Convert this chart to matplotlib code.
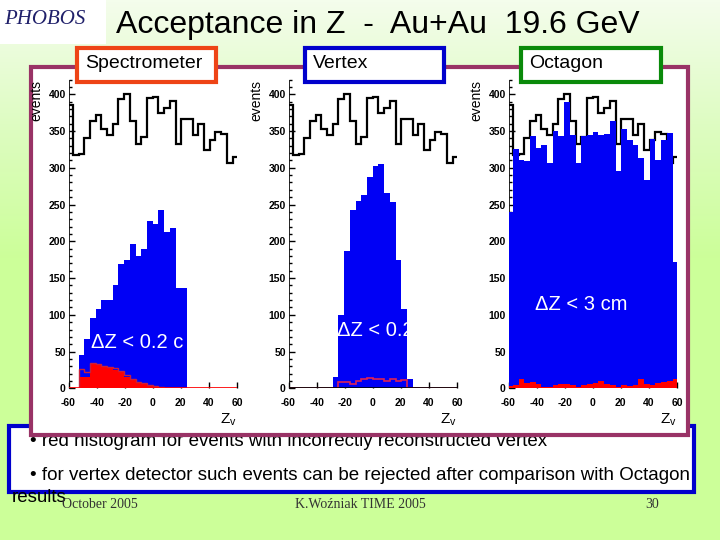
import numpy as np
import matplotlib
matplotlib.use("Agg")
import matplotlib.pyplot as plt
from matplotlib.patches import Rectangle
from matplotlib.colors import LinearSegmentedColormap

# ---------------- data ----------------
bin_edges = np.linspace(-61, 61, 31)          # 30 bins of ~4.07 cm
x_ticks = [-60, -40, -20, 0, 20, 40, 60]
y_ticks = [0, 50, 100, 150, 200, 250, 300, 350, 400]

all_events = [385, 317, 319, 340, 363, 372, 353, 345, 360, 394,
              400, 364, 332, 342, 395, 397, 374, 381, 391, 333,
              366, 367, 345, 360, 324, 338, 349, 346, 307, 315]

spec_accepted = [0, 0, 45, 67, 95, 108, 120, 120, 141, 169,
                 175, 197, 180, 190, 228, 223, 242, 213, 218, 136,
                 136, 0, 0, 0, 0, 0, 0, 0, 0, 0]
spec_wrong_fill = [0, 0, 15, 16, 33, 32, 30, 27, 25, 22,
                   16, 12, 8, 6, 3, 2, 1, 1, 0.5, 0.5,
                   0.3, 0, 0, 0, 0, 0, 0, 0, 0, 0]
spec_wrong_line = [0, 0, 26, 22, 34, 33, 31, 29, 27, 24,
                   18, 13, 9, 7, 4, 3, 2, 1, 1, 0.5,
                   0.3, 0, 0, 0, 0, 0, 0, 0, 0, 0]

vtx_accepted = [0, 0, 0, 0, 0, 0, 0, 0, 15, 100,
                187, 243, 255, 263, 288, 302, 305, 266, 253, 175,
                108, 12, 0, 0, 0, 0, 0, 0, 0, 0]
vtx_wrong = [0, 0, 0, 0, 0, 0, 0, 0, 0, 9,
             8, 6, 10, 12, 14, 13, 12, 10, 12, 10,
             11, 0, 0, 0, 0, 0, 0, 0, 0, 0]

oct_accepted = [240, 326, 311, 309, 343, 327, 331, 306, 350, 343,
                389, 345, 306, 343, 345, 349, 345, 346, 364, 296,
                353, 338, 331, 314, 284, 339, 311, 338, 348, 172]
oct_wrong = [3, 4, 13, 7, 9, 6, 2, 1.5, 4.5, 6,
             5.5, 4, 2, 5, 6, 7, 9.5, 6, 5, 2,
             4, 3, 4, 12, 6, 4.5, 7, 8, 10.5, 12]

title = "Acceptance in Z  -  Au+Au  19.6 GeV"
panel_names = ["Spectrometer", "Vertex", "Octagon"]
panel_colors = ["#ee4416", "#0000cc", "#0a8a0a"]
cut_labels = ["\u0394Z < 0.2 c", "\u0394Z < 0.2 cm", "\u0394Z < 3 cm"]
bullets = ["\u2022 red histogram for events with incorrectly reconstructed vertex",
           "\u2022 for vertex detector such events can be rejected after comparison with Octagon"]
footer = ["October 2005", "K.Wo\u017aniak TIME 2005", "30"]

# ---------------- figure ----------------
W, H = 720, 540
plt.rcParams['font.family'] = ['Liberation Sans', 'DejaVu Sans']
plt.rcParams['axes.unicode_minus'] = False
fig = plt.figure(figsize=(7.2, 5.4), dpi=100)


def rect(x0, y0, x1, y1):
    return [x0 / W, 1 - y1 / H, (x1 - x0) / W, (y1 - y0) / H]


bg = fig.add_axes([0, 0, 1, 1], zorder=0)
bg.set_xlim(0, W)
bg.set_ylim(H, 0)
bg.axis('off')
cmap = LinearSegmentedColormap.from_list('g', ['#f4fdec', '#ddfcc0', '#ccff99'])
grad = np.concatenate([np.linspace(0, 1, 260), np.ones(280)])[:, None]
bg.imshow(grad, cmap=cmap, extent=[0, W, H, 0], aspect='auto', zorder=0)

# logo
bg.add_patch(Rectangle((0, 0), 106, 44, facecolor='white', edgecolor='none', zorder=1))
bg.text(4, 20, "PHOBOS", fontsize=15, color='#20206a', fontstyle='italic',
        family='Liberation Serif', va='center', ha='left', zorder=2)
bg.text(378, 25, title, fontsize=23, ha='center', va='center', color='black', zorder=2)

# blue text box
bg.add_patch(Rectangle((9, 426), 685, 66, facecolor='white', edgecolor='#0000cc', lw=3, zorder=1))
bg.text(30, 442, bullets[0], fontsize=13.5, va='center', ha='left', zorder=2)
bg.text(30, 475, bullets[1], fontsize=13.5, va='center', ha='left', zorder=2)
bg.text(12, 498, "results", fontsize=13.5, va='center', ha='left', zorder=4)
bg.text(62, 504, footer[0], fontsize=10, family='Liberation Serif', color='#333333', va='center', ha='left', zorder=4)
bg.text(360, 504, footer[1], fontsize=10, family='Liberation Serif', color='#333333', va='center', ha='center', zorder=4)
bg.text(652, 504, footer[2], fontsize=10, family='Liberation Serif', color='#333333', va='center', ha='center', zorder=4)

# maroon box
bg.add_patch(Rectangle((31, 67), 657, 368, facecolor='white', edgecolor='#993366', lw=3, zorder=3))

panel_left = [68.5, 288.5, 508.5]
acc = [spec_accepted, vtx_accepted, oct_accepted]
text_pos = [(91, 342), (337, 330), (535, 305)]

for i in range(3):
    x0 = panel_left[i]
    ax = fig.add_axes(rect(x0, 79.6, x0 + 168.4, 388.3), zorder=1)
    ax.patch.set_alpha(0)
    ax.set_xlim(-60, 60)
    ax.set_ylim(0, 420)
    ax.stairs(all_events, bin_edges, color='black', lw=1.6, baseline=None, zorder=2)
    blue = ax.stairs(acc[i], bin_edges, fill=True, color='#0000f5', lw=0, zorder=3)
    if i == 0:
        ax.stairs(spec_wrong_fill, bin_edges, fill=True, color='#ff0000', lw=0, zorder=4)
        ax.stairs(spec_wrong_line, bin_edges, color='#c8203c', lw=1.0, baseline=None, zorder=5)
        ax.axhline(0, color='#ff0000', lw=1.2, zorder=6)
    elif i == 1:
        ax.stairs(vtx_wrong, bin_edges, color='#dd2255', lw=1.2, baseline=None, zorder=5)
        ax.axhline(0, color='black', lw=1.2, zorder=6)
    else:
        ax.stairs(oct_wrong, bin_edges, fill=True, color='#ff0000', lw=0, zorder=4)
        ax.axhline(0, color='#ff0000', lw=1.2, zorder=6)
    for s in ['top', 'right', 'bottom']:
        ax.spines[s].set_visible(False)
    ax.spines['left'].set_linewidth(0.6)
    ax.set_xticks(x_ticks)
    ax.set_yticks(y_ticks)
    ax.set_yticks(np.arange(0, 421, 10), minor=True)
    ax.tick_params(axis='both', which='major', direction='in', length=4, width=1,
                   labelsize=7.5, pad=2)
    ax.tick_params(axis='y', which='minor', direction='in', length=2, width=1)
    ax.tick_params(axis='x', which='major', pad=7)
    for lab in ax.get_xticklabels() + ax.get_yticklabels():
        lab.set_fontweight('bold')
    ax.set_ylabel("events", fontsize=10, loc='top', labelpad=2)
    ax.yaxis.set_label_coords(-0.15, 1.0)
    ax.text(1.0, -0.1, r"Z$_\mathregular{v}$", transform=ax.transAxes, fontsize=11,
            ha='right', va='center')
    # white cut label, clipped to the accepted histogram
    tx, ty = text_pos[i]
    t = fig.text(tx / W, 1 - ty / H, cut_labels[i], fontsize=14.5, color='white',
                 ha='left', va='center', zorder=5)
    t.set_clip_path(blue)

ov = fig.add_axes([0, 0, 1, 1], zorder=3)
ov.set_xlim(0, W)
ov.set_ylim(H, 0)
ov.axis('off')
box_x = [(77, 216), (305, 444), (521, 661)]
for (a, b), name, col in zip(box_x, panel_names, panel_colors):
    ov.add_patch(Rectangle((a, 48), b - a, 34, facecolor='white', edgecolor=col, lw=3))
    ov.text(a + 8, 64, name, fontsize=14, va='center', ha='left')

fig.savefig("out.png", dpi=100)
